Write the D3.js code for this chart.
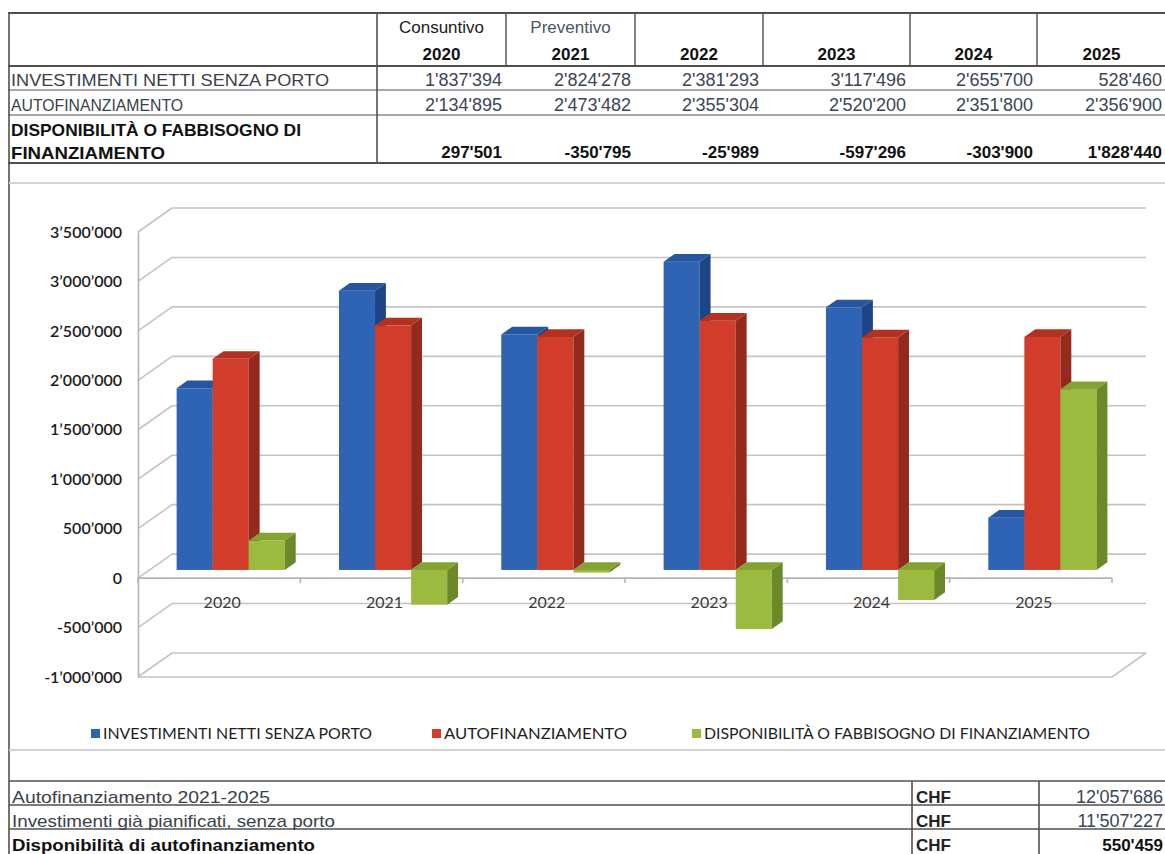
<!DOCTYPE html>
<html>
<head>
<meta charset="utf-8">
<script src="https://cdn.jsdelivr.net/npm/d3@7/dist/d3.min.js"></script>
<style>
  body { margin: 0; background: #fff; }
  svg { display: block; }
</style>
</head>
<body>
<div id="chart"></div>
<script>
const years = ["2020", "2021", "2022", "2023", "2024", "2025"];
const headerNotes = ["Consuntivo", "Preventivo", "", "", "", ""];
const investimenti = [1837394, 2824278, 2381293, 3117496, 2655700, 528460];
const autofinanziamento = [2134895, 2473482, 2355304, 2520200, 2351800, 2356900];
const disponibilita = [297501, -350795, -25989, -597296, -303900, 1828440];
const seriesNames = ["INVESTIMENTI NETTI SENZA PORTO", "AUTOFINANZIAMENTO", "DISPONIBILITÀ O FABBISOGNO DI FINANZIAMENTO"];
const yTicks = [-1000000, -500000, 0, 500000, 1000000, 1500000, 2000000, 2500000, 3000000, 3500000];
const summaryLabels = ["Autofinanziamento 2021-2025", "Investimenti già pianificati, senza porto", "Disponibilità di autofinanziamento"];
const summaryCurrency = "CHF";
const summaryValues = [12057686, 11507227, 550459];

const W = 1165, H = 854;
const svg = d3.select("#chart").append("svg").attr("width", W).attr("height", H);

const fmt = d3.formatLocale({ decimal: ".", thousands: "'", grouping: [3], currency: ["", ""], minus: "-" }).format(",d");
const axisFmt = d3.formatLocale({ decimal: ".", thousands: "’", grouping: [3], currency: ["", ""], minus: "-" }).format(",d");

const tableFont = "'Liberation Sans', Arial, sans-serif";
const chartFont = "Lato, 'Noto Sans', sans-serif";
const lineCol = "#505050";

// ---------- top table ----------
const colEdges = [377, 506, 635, 763, 910, 1037, 1166];
const tbl = svg.append("g");

[13, 66, 90, 115, 163].forEach(y => {
  tbl.append("line").attr("x1", 8).attr("x2", W).attr("y1", y).attr("y2", y)
    .attr("stroke", lineCol).attr("stroke-width", y === 90 || y === 115 ? 1.2 : 1.8);
});
// frame line on the left runs all the way down
tbl.append("line").attr("x1", 9).attr("x2", 9).attr("y1", 13).attr("y2", H)
  .attr("stroke", lineCol).attr("stroke-width", 1.6);
tbl.append("line").attr("x1", colEdges[0]).attr("x2", colEdges[0]).attr("y1", 13).attr("y2", 163)
  .attr("stroke", lineCol).attr("stroke-width", 1.6);
colEdges.slice(1, 6).forEach(x => {
  tbl.append("line").attr("x1", x).attr("x2", x).attr("y1", 13).attr("y2", 66)
    .attr("stroke", lineCol).attr("stroke-width", 1.4);
});

years.forEach((yr, i) => {
  const cx = (colEdges[i] + colEdges[i + 1]) / 2;
  const right = colEdges[i + 1] - 4;
  if (headerNotes[i]) {
    tbl.append("text").attr("x", cx).attr("y", 33).attr("text-anchor", "middle")
      .attr("font-family", tableFont).attr("font-size", 17)
      .attr("fill", i === 0 ? "#1a1a1a" : "#4a5566").text(headerNotes[i]);
  }
  tbl.append("text").attr("x", cx).attr("y", 60).attr("text-anchor", "middle")
    .attr("font-family", tableFont).attr("font-size", 17).attr("font-weight", "bold")
    .attr("fill", "#111").text(yr);
  tbl.append("text").attr("x", right).attr("y", 86).attr("text-anchor", "end")
    .attr("font-family", tableFont).attr("font-size", 18).attr("fill", "#3b4556")
    .text(fmt(investimenti[i]));
  tbl.append("text").attr("x", right).attr("y", 111).attr("text-anchor", "end")
    .attr("font-family", tableFont).attr("font-size", 18).attr("fill", "#3b4556")
    .text(fmt(autofinanziamento[i]));
  tbl.append("text").attr("x", right).attr("y", 158).attr("text-anchor", "end")
    .attr("font-family", tableFont).attr("font-size", 17).attr("font-weight", "bold")
    .attr("fill", "#111").text(fmt(disponibilita[i]));
});

const rowLabel = (txt, y, len, bold) => tbl.append("text").attr("x", 11).attr("y", y)
  .attr("font-family", tableFont).attr("font-size", 17)
  .attr("font-weight", bold ? "bold" : "normal")
  .attr("fill", bold ? "#111" : "#3a3f4a")
  .attr("textLength", len).attr("lengthAdjust", "spacingAndGlyphs").text(txt);
rowLabel(seriesNames[0], 86, 318, false);
rowLabel(seriesNames[1], 111, 172, false);
rowLabel("DISPONIBILITÀ O FABBISOGNO DI", 136, 290, true);
rowLabel("FINANZIAMENTO", 159, 154, true);

// ---------- chart area ----------
[183, 750].forEach(y => {
  svg.append("line").attr("x1", 9).attr("x2", W).attr("y1", y).attr("y2", y)
    .attr("stroke", "#d2d2d2").attr("stroke-width", 2);
});

const xF = d3.scaleBand().domain(years).range([138, 1112]);
const yF = d3.scaleLinear().domain([-1000000, 3500000]).range([677, 232]);
const D = { x: 34, y: -24 };            // depth of the walls
const t0 = 0.34, t1 = 0.66;             // front / back of the bars inside the depth
const inner = d3.scaleBand().domain([0, 1, 2]).range([0, xF.bandwidth()]).paddingOuter(0.75);

const grid = svg.append("g").attr("fill", "none").attr("stroke", "#c4c4c4").attr("stroke-width", 1.6);
yTicks.forEach(v => {
  const y = yF(v);
  grid.append("line").attr("x1", xF.range()[0] + D.x).attr("x2", xF.range()[1] + D.x)
    .attr("y1", y + D.y).attr("y2", y + D.y);
  grid.append("line").attr("x1", xF.range()[0]).attr("x2", xF.range()[0] + D.x)
    .attr("y1", y).attr("y2", y + D.y);
});
// floor front edge and right edge at the axis minimum
const yMin = yF(yTicks[0]);
grid.append("path").attr("d", d3.line()([
  [xF.range()[0], yMin], [xF.range()[1], yMin], [xF.range()[1] + D.x, yMin + D.y]
]));
// category axis line at 0 with boundary ticks
const y0 = yF(0);
grid.append("line").attr("x1", xF.range()[0]).attr("x2", xF.range()[1])
  .attr("y1", y0).attr("y2", y0).attr("stroke", "#b4b4b4");
d3.range(years.length + 1).forEach(i => {
  const x = xF.range()[0] + i * xF.bandwidth();
  grid.append("line").attr("x1", x).attr("x2", x).attr("y1", y0).attr("y2", y0 + 5).attr("stroke", "#b4b4b4");
});

// value axis
const yAxis = svg.append("g").attr("transform", `translate(${xF.range()[0]},0)`)
  .call(d3.axisLeft(yF).tickValues(yTicks).tickFormat(axisFmt).tickSize(0).tickPadding(16));
yAxis.select(".domain").attr("stroke", "#b4b4b4").attr("stroke-width", 1.6);
yAxis.selectAll("text").attr("font-family", chartFont).attr("font-size", 16)
  .attr("fill", "#1c1c1c").attr("font-weight", 600);

// category labels
const xAxis = svg.append("g").attr("transform", `translate(3,${y0 + 16})`)
  .call(d3.axisBottom(xF).tickSize(0).tickPadding(3));
xAxis.select(".domain").remove();
xAxis.selectAll("text").attr("font-family", chartFont).attr("font-size", 16).attr("fill", "#3a3a3a");

// ---------- 3D bars ----------
const series = [
  { values: investimenti, front: "#2f64b5", side: "#1d4585", top: "#2756a0" },
  { values: autofinanziamento, front: "#d23c2b", side: "#94291e", top: "#b23222" },
  { values: disponibilita, front: "#9bba3f", side: "#6b8928", top: "#84a332" }
];
const bars = svg.append("g");
const dd = { x: (t1 - t0) * D.x, y: (t1 - t0) * D.y };
years.forEach(yr => {
  series.forEach((s, si) => {
    const v = s.values[years.indexOf(yr)];
    const x0 = xF(yr) + inner(si) + t0 * D.x;
    const x1 = x0 + inner.bandwidth();
    const yv = yF(v) + t0 * D.y;
    const yb = yF(0) + t0 * D.y;
    const yTop = Math.min(yv, yb), yBot = Math.max(yv, yb);
    const poly = pts => d3.line()(pts) + "Z";
    bars.append("rect").attr("x", x0).attr("y", yTop).attr("width", x1 - x0).attr("height", yBot - yTop)
      .attr("fill", s.front);
    bars.append("path").attr("fill", s.side).attr("d", poly([
      [x1, yTop], [x1 + dd.x, yTop + dd.y], [x1 + dd.x, yBot + dd.y], [x1, yBot]
    ]));
    bars.append("path").attr("fill", s.top).attr("d", poly([
      [x0, yTop], [x1, yTop], [x1 + dd.x, yTop + dd.y], [x0 + dd.x, yTop + dd.y]
    ]));
  });
});

// ---------- legend ----------
const legendX = [91, 432, 692];
const legendLen = [269, 183, 386];
const legend = svg.append("g");
series.forEach((s, i) => {
  legend.append("rect").attr("x", legendX[i]).attr("y", 729).attr("width", 9).attr("height", 9).attr("fill", s.front);
  legend.append("text").attr("x", legendX[i] + 12).attr("y", 739)
    .attr("font-family", chartFont).attr("font-size", 15).attr("fill", "#1e1e1e")
    .attr("textLength", legendLen[i]).attr("lengthAdjust", "spacingAndGlyphs").text(seriesNames[i]);
});

// ---------- summary table ----------
const sum = svg.append("g");
[781, 805, 829].forEach(y => {
  sum.append("line").attr("x1", 9).attr("x2", W).attr("y1", y).attr("y2", y)
    .attr("stroke", lineCol).attr("stroke-width", 1.6);
});
[912, 1039].forEach(x => {
  sum.append("line").attr("x1", x).attr("x2", x).attr("y1", 781).attr("y2", H)
    .attr("stroke", lineCol).attr("stroke-width", 1.6);
});
const sumLen = [258, 323, 303];
summaryLabels.forEach((lab, i) => {
  const y = 803 + i * 24;
  const bold = i === 2;
  sum.append("text").attr("x", 12).attr("y", y)
    .attr("font-family", tableFont).attr("font-size", 17).attr("font-weight", bold ? "bold" : "normal")
    .attr("fill", bold ? "#111" : "#3a3f4a")
    .attr("textLength", sumLen[i]).attr("lengthAdjust", "spacingAndGlyphs").text(lab);
  sum.append("text").attr("x", 916).attr("y", y)
    .attr("font-family", tableFont).attr("font-size", 17).attr("font-weight", "bold")
    .attr("fill", "#222").text(summaryCurrency);
  sum.append("text").attr("x", 1163).attr("y", y).attr("text-anchor", "end")
    .attr("font-family", tableFont).attr("font-size", bold ? 17 : 18).attr("font-weight", bold ? "bold" : "normal")
    .attr("fill", bold ? "#111" : "#3b4556").text(fmt(summaryValues[i]));
});
</script>
</body>
</html>
